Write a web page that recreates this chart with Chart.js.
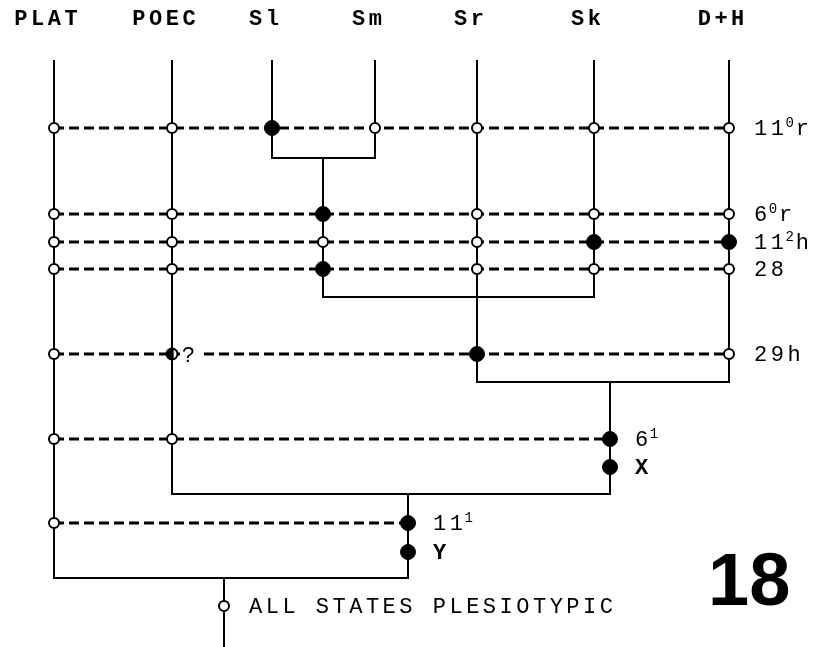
<!DOCTYPE html>
<html>
<head>
<meta charset="utf-8">
<title>Cladogram 18</title>
<script src="https://cdn.jsdelivr.net/npm/chart.js@4.4.0/dist/chart.umd.min.js"></script>
<style>
  html, body { margin: 0; padding: 0; background: #fff; overflow: hidden; }
  .chart { width: 816px; height: 647px; position: relative; }
</style>
</head>
<body>
<div class="chart"><canvas id="cladeChart"></canvas></div>
<script>
// taxa along the top
const taxa = ['PLAT', 'POEC', 'Sl', 'Sm', 'Sr', 'Sk', 'D+H'];
const taxonX = [54, 172, 272, 375, 477, 594, 729];
const taxonBottom = [578, 494, 158, 158, 382, 297, 382];
const tipTop = 61;
const taxonLabelY = 25;

// clades: bracket level, bracket ends, node stem and where it stops
const cladeY = [158, 297, 382, 494, 578];
const cladeFrom = [272, 323, 477, 172, 54];
const cladeTo = [375, 594, 729, 610, 408];
const cladeNodeX = [323, 477, 610, 408, 224];
const cladeStemEnd = [297, 382, 494, 578, 647];

// character rows (0 = plesiotypic / open, 1 = apotypic / filled, 2 = uncertain)
const charLabels = ['11⁰r', '6⁰r', '11²h', '28', '29h', '6¹', 'X', '11¹', 'Y', 'ALL STATES PLESIOTYPIC'];
const charY = [128, 214, 242, 269, 354, 439, 467, 523, 552, 606];
const charX = [
  [54, 172, 272, 375, 477, 594, 729],
  [54, 172, 323, 477, 594, 729],
  [54, 172, 323, 477, 594, 729],
  [54, 172, 323, 477, 594, 729],
  [54, 172, 477, 729],
  [54, 172, 610],
  [610],
  [54, 408],
  [408],
  [224]
];
const charState = [
  [0, 0, 1, 0, 0, 0, 0],
  [0, 0, 1, 0, 0, 0],
  [0, 0, 0, 0, 1, 1],
  [0, 0, 1, 0, 0, 0],
  [0, 2, 1, 0],
  [0, 0, 1],
  [1],
  [0, 1],
  [1],
  [0]
];
const boldLabels = ['X', 'Y'];
const figureNumber = '18';

const MONO = '"Liberation Mono", "DejaVu Sans Mono", monospace';
const SUPS = { '⁰': '0', '¹': '1', '²': '2', '³': '3' };

function halfDot() {
  const c = document.createElement('canvas');
  c.width = c.height = 16;
  const g = c.getContext('2d');
  g.beginPath(); g.arc(8, 8, 5.5, 0, Math.PI * 2); g.fillStyle = '#fff'; g.fill();
  g.beginPath(); g.arc(8, 8, 5.5, Math.PI * 0.4, Math.PI * 1.6); g.fillStyle = '#000'; g.fill();
  g.beginPath(); g.arc(8, 8, 5.5, 0, Math.PI * 2); g.lineWidth = 2; g.strokeStyle = '#000'; g.stroke();
  return c;
}
const uncertainDot = halfDot();

// branch lines
const branchSets = [];
function addSeg(x1, y1, x2, y2) {
  branchSets.push({
    data: [{ x: x1, y: y1 }, { x: x2, y: y2 }],
    showLine: true, borderColor: '#000', borderWidth: 2, borderCapStyle: 'square',
    pointRadius: 0, clip: false, order: 2
  });
}
taxa.forEach((t, i) => addSeg(taxonX[i], tipTop, taxonX[i], taxonBottom[i]));
cladeY.forEach((cy, i) => {
  addSeg(cladeFrom[i], cy, cladeTo[i], cy);
  addSeg(cladeNodeX[i], cy, cladeNodeX[i], cladeStemEnd[i]);
});

// character rows: dashed line + state circles
const rowSets = charY.map((cy, r) => ({
  data: charX[r].map(x => ({ x: x, y: cy })),
  showLine: charX[r].length > 1,
  borderColor: '#000', borderWidth: 2.8, borderDash: [10, 5],
  pointStyle: charState[r].map(s => s === 2 ? uncertainDot : 'circle'),
  pointRadius: charState[r].map(s => s === 1 ? 7.5 : 5),
  pointBackgroundColor: charState[r].map(s => s === 1 ? '#000' : '#fff'),
  pointBorderColor: '#000',
  pointBorderWidth: charState[r].map(s => s === 1 ? 1 : 2),
  clip: false, order: 1
}));

function drawLabel(ctx, text, x, base, bold) {
  const parts = text.match(/[⁰¹²³]+|[^⁰¹²³]+/g);
  let cx = x;
  parts.forEach(p => {
    if (SUPS[p[0]]) {
      const s = p.split('').map(ch => SUPS[ch]).join('');
      ctx.font = '14px ' + MONO;
      ctx.letterSpacing = '0px';
      ctx.fillText(s, cx - 2, base - 8);
      cx += ctx.measureText(s).width;
    } else {
      ctx.font = (bold ? 'bold ' : '') + '22px ' + MONO;
      ctx.letterSpacing = '3.5px';
      ctx.fillText(p, cx, base);
      cx += ctx.measureText(p).width;
    }
  });
}

const textPlugin = {
  id: 'cladeText',
  afterDatasetsDraw(chart) {
    const { ctx, scales: { x, y } } = chart;
    ctx.save();
    ctx.fillStyle = '#000';
    ctx.textBaseline = 'alphabetic';
    ctx.textAlign = 'left';

    // taxon names
    ctx.font = 'bold 22px ' + MONO;
    ctx.letterSpacing = '3.5px';
    taxa.forEach((t, i) => {
      const w = ctx.measureText(t).width - 3.5;
      ctx.fillText(t, x.getPixelForValue(taxonX[i]) - 8 - w / 2, y.getPixelForValue(taxonLabelY));
    });

    // character labels to the right of each row
    charLabels.forEach((lab, r) => {
      const lastX = charX[r][charX[r].length - 1];
      drawLabel(ctx, lab, x.getPixelForValue(lastX) + 25, y.getPixelForValue(charY[r]) + 7,
        boldLabels.includes(lab));
    });

    // question mark beside the uncertain state
    charState.forEach((row, r) => row.forEach((s, i) => {
      if (s !== 2) return;
      const px = x.getPixelForValue(charX[r][i]) + 8;
      const py = y.getPixelForValue(charY[r]);
      ctx.fillStyle = '#fff';
      ctx.fillRect(px, py - 11, 19, 22);
      ctx.fillStyle = '#000';
      ctx.font = '22px "Liberation Sans", Arial, sans-serif';
      ctx.letterSpacing = '0px';
      ctx.fillText('?', px + 2, py + 8);
    }));

    // figure number
    ctx.font = 'bold 74px "Liberation Sans", Arial, sans-serif';
    ctx.letterSpacing = '0px';
    ctx.fillText(figureNumber, 708, 605);
    ctx.restore();
  }
};

new Chart(document.getElementById('cladeChart'), {
  type: 'scatter',
  data: { datasets: [...rowSets, ...branchSets] },
  options: {
    responsive: true,
    maintainAspectRatio: false,
    animation: false,
    events: [],
    layout: { padding: 0, autoPadding: false },
    plugins: { legend: { display: false }, tooltip: { enabled: false } },
    scales: {
      x: { type: 'linear', min: 0, max: 816, display: false },
      y: { type: 'linear', min: 0, max: 647, reverse: true, display: false }
    }
  },
  plugins: [textPlugin]
});
</script>
</body>
</html>
